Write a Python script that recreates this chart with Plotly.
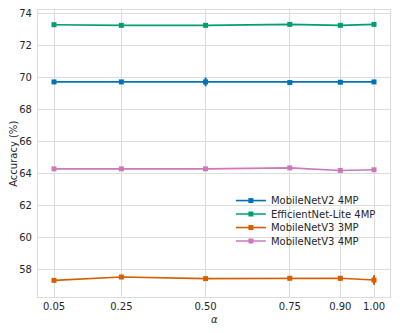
import plotly.graph_objects as go

alpha = [0.05, 0.25, 0.50, 0.75, 0.90, 1.00]
tick_text = ["0.05", "0.25", "0.50", "0.75", "0.90", "1.00"]
y_ticks = [58, 60, 62, 64, 66, 68, 70, 72, 74]

names = ["MobileNetV2 4MP", "EfficientNet-Lite 4MP", "MobileNetV3 3MP", "MobileNetV3 4MP"]
mnv2_4mp = [69.75, 69.75, 69.75, 69.71, 69.73, 69.75]
effl_4mp = [73.33, 73.29, 73.29, 73.35, 73.29, 73.35]
mnv3_3mp = [57.33, 57.54, 57.44, 57.46, 57.46, 57.35]
mnv3_4mp = [64.31, 64.31, 64.31, 64.37, 64.21, 64.25]

mnv2_err = [0.05, 0.05, 0.27, 0.05, 0.05, 0.05]
effl_err = [0.04, 0.04, 0.04, 0.04, 0.04, 0.04]
mnv3_3_err = [0.05, 0.05, 0.05, 0.05, 0.15, 0.3]
mnv3_4_err = [0.04, 0.04, 0.04, 0.05, 0.05, 0.05]

colors = ["#0173b2", "#029e73", "#d55e00", "#cc78bc"]
series = [mnv2_4mp, effl_4mp, mnv3_3mp, mnv3_4mp]
errs = [mnv2_err, effl_err, mnv3_3_err, mnv3_4_err]
legend_ids = ["legend", "legend2", "legend3", "legend4"]
legend_y = [0.336, 0.289, 0.242, 0.195]

fig = go.Figure()
for n, y, e, c, lg in zip(names, series, errs, colors, legend_ids):
    fig.add_trace(go.Scatter(
        x=alpha, y=y, name=n, mode="lines+markers", legend=lg,
        line=dict(color=c, width=1.6),
        marker=dict(symbol="square", size=5, color=c),
        error_y=dict(type="data", array=e, visible=True, color=c, thickness=2, width=0),
    ))

grid = "#dcdcdc"
layout_legends = {}
for lg, ly in zip(legend_ids, legend_y):
    layout_legends[lg] = dict(x=0.548, y=ly, xanchor="left", yanchor="middle",
                              bgcolor="rgba(255,255,255,0)", borderwidth=0,
                              font=dict(size=10, color="#262626"), itemwidth=30)

fig.update_layout(
    width=400, height=333,
    margin=dict(l=38, r=10, t=10, b=36),
    paper_bgcolor="white", plot_bgcolor="white",
    font=dict(family="DejaVu Sans", size=10, color="#262626"),
    showlegend=True,
    xaxis=dict(range=[0.0025, 1.0475], tickvals=alpha, ticktext=tick_text,
               showgrid=True, gridcolor=grid, gridwidth=1,
               showline=True, linecolor=grid, linewidth=1.2, mirror=True,
               zeroline=False, ticks="", automargin=False, ticklabelstandoff=0),
    yaxis=dict(range=[56.29, 74.25], tickvals=y_ticks,
               showgrid=True, gridcolor=grid, gridwidth=1,
               showline=True, linecolor=grid, linewidth=1.2, mirror=True,
               zeroline=False, ticks="", automargin=False, ticklabelstandoff=3),
    shapes=[dict(type="rect", xref="paper", yref="paper", x0=0.582, x1=0.945,
                 y0=0.166, y1=0.36, fillcolor="white", line=dict(width=0),
                 layer="between")],
    annotations=[
        dict(text="<i>α</i>", xref="paper", yref="paper", x=0.5, y=-0.08,
             showarrow=False, xanchor="center", yanchor="middle", font=dict(size=10)),
        dict(text="Accuracy (%)", xref="paper", yref="paper", x=-0.07, y=0.5,
             showarrow=False, textangle=-90, xanchor="center", yanchor="middle",
             font=dict(size=10)),
    ],
    **layout_legends,
)

fig.write_html("out.html", config={"displayModeBar": False},
               post_script="document.body.style.margin='0';")
